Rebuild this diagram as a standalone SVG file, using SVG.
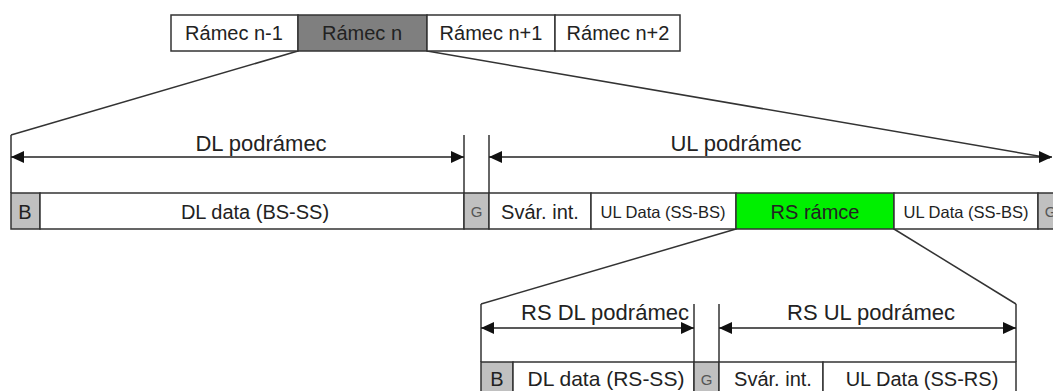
<svg xmlns="http://www.w3.org/2000/svg" width="1053" height="391" viewBox="0 0 1053 391">
<defs>
<marker id="ah" viewBox="0 0 13 12" markerWidth="13" markerHeight="12" refX="13" refY="6" orient="auto-start-reverse" markerUnits="userSpaceOnUse">
<path d="M0,0 L13,6 L0,12 z" fill="#111"/>
</marker>
<style>
.c{stroke:#333;stroke-width:1.5}
.w{fill:#fff}
.lg{fill:#c0c0c0}
.dg{fill:#7f7f7f}
.gr{fill:#00f000}
.t{font-family:"Liberation Sans",Arial,sans-serif;fill:#222;text-anchor:middle}
.s{fill:#555}
.l{stroke:#333;stroke-width:1.5;fill:none}
.a{stroke:#222;stroke-width:1.5;fill:none;marker-start:url(#ah);marker-end:url(#ah)}
</style>
</defs>
<rect width="1053" height="391" fill="#fff"/>

<g id="connectors">
<line class="l" x1="298" y1="51" x2="11" y2="135"/>
<line class="l" x1="427" y1="51" x2="1050" y2="158"/>
<line class="l" x1="11" y1="135" x2="11" y2="193"/>
<line class="l" x1="464" y1="135" x2="464" y2="193"/>
<line class="l" x1="489" y1="135" x2="489" y2="193"/>
<line class="a" x1="11" y1="157" x2="464" y2="157"/>
<line class="a" x1="489" y1="157" x2="1052" y2="157"/>
<line class="l" x1="736" y1="229" x2="481" y2="304"/>
<line class="l" x1="894" y1="229" x2="1016" y2="304"/>
<line class="l" x1="481" y1="304" x2="481" y2="362"/>
<line class="l" x1="694" y1="304" x2="694" y2="362"/>
<line class="l" x1="719" y1="304" x2="719" y2="362"/>
<line class="l" x1="1016" y1="304" x2="1016" y2="362"/>
<line class="a" x1="481" y1="328" x2="694" y2="328"/>
<line class="a" x1="719" y1="328" x2="1016" y2="328"/>
</g>

<g id="labels">
<text class="t" x="261" y="151" font-size="22">DL podrámec</text>
<text class="t" x="736" y="151" font-size="22">UL podrámec</text>
<text class="t" x="605" y="320" font-size="22">RS DL podrámec</text>
<text class="t" x="871" y="320" font-size="22">RS UL podrámec</text>
</g>

<g id="frame-n-1"><rect class="c w" x="171" y="15" width="127" height="36"/><text class="t" x="234" y="40" font-size="20">Rámec n-1</text></g>
<g id="frame-n"><rect class="c dg" x="298" y="15" width="129" height="36"/><text class="t" x="362" y="40" font-size="20">Rámec n</text></g>
<g id="frame-n1"><rect class="c w" x="427" y="15" width="128" height="36"/><text class="t" x="491" y="40" font-size="20">Rámec n+1</text></g>
<g id="frame-n2"><rect class="c w" x="555" y="15" width="125" height="36"/><text class="t" x="618" y="40" font-size="20">Rámec n+2</text></g>

<g id="b1"><rect class="c lg" x="11" y="193" width="29" height="36"/><text class="t" x="25" y="219" font-size="20">B</text></g>
<g id="dl-data"><rect class="c w" x="40" y="193" width="424" height="36"/><text class="t" x="255" y="219" font-size="20">DL data (BS-SS)</text></g>
<g id="g1"><rect class="c lg" x="464" y="193" width="25" height="36"/><text class="t s" x="476.5" y="217" font-size="15">G</text></g>
<g id="svar1"><rect class="c w" x="489" y="193" width="102" height="36"/><text class="t" x="540" y="219" font-size="20">Svár. int.</text></g>
<g id="ul-data1"><rect class="c w" x="591" y="193" width="145" height="36"/><text class="t" x="663" y="218" font-size="16.5">UL Data (SS-BS)</text></g>
<g id="rs-frame"><rect class="c gr" x="736" y="193" width="158" height="36"/><text class="t" x="815" y="219" font-size="20">RS rámce</text></g>
<g id="ul-data2"><rect class="c w" x="894" y="193" width="144" height="36"/><text class="t" x="966" y="218" font-size="16.5">UL Data (SS-BS)</text></g>
<g id="g2"><rect class="c lg" x="1038" y="193" width="25" height="36"/><text class="t s" x="1050.5" y="217" font-size="15">G</text></g>

<g id="b2"><rect class="c lg" x="481" y="362" width="32" height="36"/><text class="t" x="497" y="386" font-size="20">B</text></g>
<g id="rs-dl-data"><rect class="c w" x="513" y="362" width="181" height="36"/><text class="t" x="606" y="386" font-size="21">DL data (RS-SS)</text></g>
<g id="g3"><rect class="c lg" x="694" y="362" width="25" height="36"/><text class="t s" x="706.5" y="385" font-size="15">G</text></g>
<g id="svar2"><rect class="c w" x="719" y="362" width="104" height="36"/><text class="t" x="773" y="386" font-size="20">Svár. int.</text></g>
<g id="rs-ul-data"><rect class="c w" x="823" y="362" width="193" height="36"/><text class="t" x="922" y="386" font-size="20">UL Data (SS-RS)</text></g>
</svg>
